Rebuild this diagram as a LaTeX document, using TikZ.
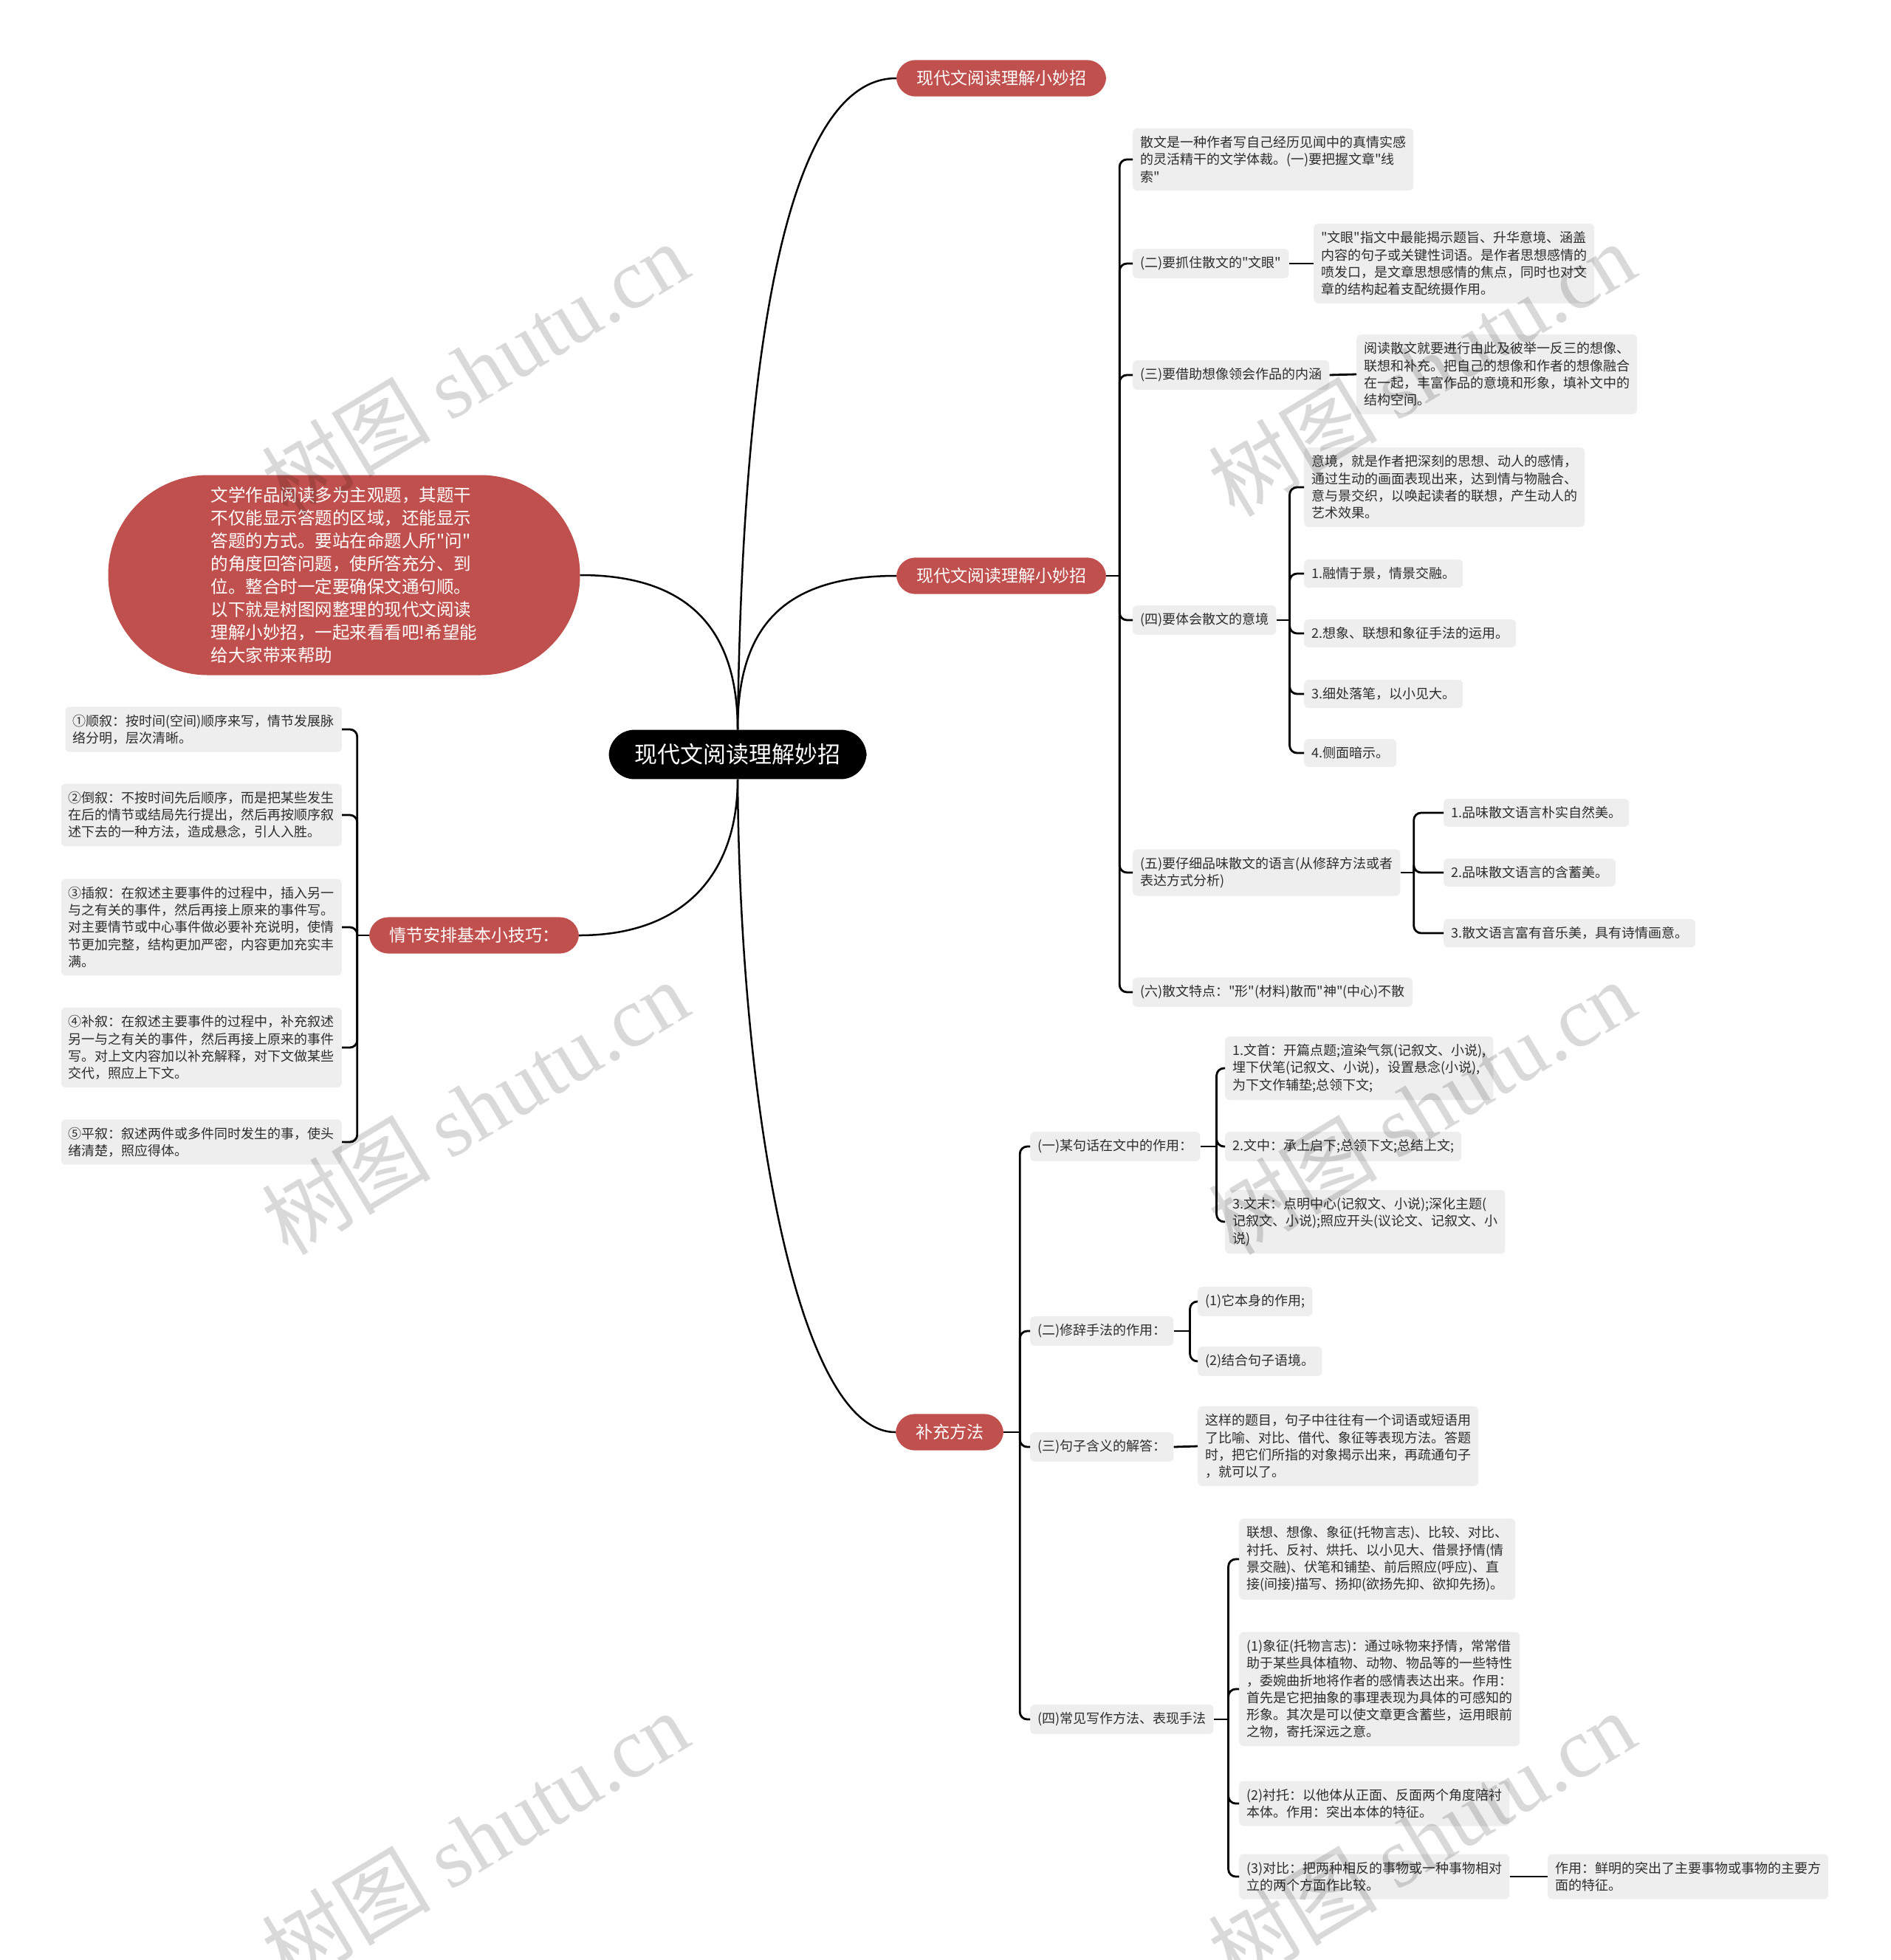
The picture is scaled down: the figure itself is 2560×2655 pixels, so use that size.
\documentclass[tikz,border=0pt]{standalone}
\usepackage{fontspec}
\setmainfont{Noto Sans CJK SC}[Ligatures=TeXOff]
\newfontfamily\markserif{Liberation Serif}
\usetikzlibrary{positioning}
\definecolor{branchred}{RGB}{192,80,77}
\definecolor{leafgray}{RGB}{238,238,238}
\definecolor{leaftext}{RGB}{45,45,45}

\tikzset{
  rootbox/.style={fill=black, text=white, rounded corners=35pt,
    inner xsep=35pt, inner ysep=19pt, font=\fontsize{31}{36}\selectfont},
  branchbox/.style={fill=branchred, text=white, rounded corners=26pt,
    inner xsep=27pt, inner ysep=14pt, font=\fontsize{23}{28}\selectfont},
  introbox/.style={fill=branchred, text=white, rounded corners=135pt,
    minimum width=639pt, minimum height=271pt, align=left,
    font=\fontsize{23.5}{31}\selectfont},
  leafbox/.style={fill=leafgray, text=leaftext, rounded corners=6pt,
    inner xsep=10pt, inner ysep=10.5pt, align=left,
    font=\fontsize{18}{23.3}\selectfont},
  rootlink/.style={line width=2.5pt},
  link/.style={line width=2.8pt, rounded corners=10pt},
  watermark/.style={text=black, opacity=0.15, rotate=31,
    font=\fontsize{115}{115}\selectfont}
}

\begin{document}
\begin{tikzpicture}[x=1pt, y=-1pt]
  \useasboundingbox (0,0) rectangle (2560,2655);

  % centre and first level
  \node[rootbox] (root) at (999,1022) {现代文阅读理解妙招};
  \node[branchbox] (b1) at (1356,106) {现代文阅读理解小妙招};
  \node[branchbox] (b2) at (1356,780) {现代文阅读理解小妙招};
  \node[branchbox] (b3) at (1286,1940) {补充方法};
  \node[branchbox] (b4) at (642,1267) {情节安排基本小技巧：};
  \node[introbox] (intro) at (466,779)
    {文学作品阅读多为主观题，其题干\\不仅能显示答题的区域，还能显示\\答题的方式。要站在命题人所"问"\\的角度回答问题，使所答充分、到\\位。整合时一定要确保文通句顺。\\以下就是树图网整理的现代文阅读\\理解小妙招，一起来看看吧!希望能\\给大家带来帮助};

  % branch b2
  \node[leafbox, anchor=west] (c1) at (1534,216)
    {散文是一种作者写自己经历见闻中的真情实感\\的灵活精干的文学体裁。(一)要把握文章"线\\索"};
  \node[leafbox, anchor=west] (c2) at (1534,357) {(二)要抓住散文的"文眼"};
  \node[leafbox, anchor=west] (c2a) at (1779,357)
    {"文眼"指文中最能揭示题旨、升华意境、涵盖\\内容的句子或关键性词语。是作者思想感情的\\喷发口，是文章思想感情的焦点，同时也对文\\章的结构起着支配统摄作用。};
  \node[leafbox, anchor=west] (c3) at (1534,508) {(三)要借助想像领会作品的内涵};
  \node[leafbox, anchor=west] (c3a) at (1837,507)
    {阅读散文就要进行由此及彼举一反三的想像、\\联想和补充。把自己的想像和作者的想像融合\\在一起，丰富作品的意境和形象，填补文中的\\结构空间。};
  \node[leafbox, anchor=west] (c4) at (1534,840) {(四)要体会散文的意境};
  \node[leafbox, anchor=west] (c4a) at (1766,660)
    {意境，就是作者把深刻的思想、动人的感情，\\通过生动的画面表现出来，达到情与物融合、\\意与景交织，以唤起读者的联想，产生动人的\\艺术效果。};
  \node[leafbox, anchor=west] (c4b) at (1766,777) {1.融情于景，情景交融。};
  \node[leafbox, anchor=west] (c4c) at (1766,858) {2.想象、联想和象征手法的运用。};
  \node[leafbox, anchor=west] (c4d) at (1766,940) {3.细处落笔，以小见大。};
  \node[leafbox, anchor=west] (c4e) at (1766,1020) {4.侧面暗示。};
  \node[leafbox, anchor=west] (c5) at (1534,1182)
    {(五)要仔细品味散文的语言(从修辞方法或者\\表达方式分析)};
  \node[leafbox, anchor=west] (c5a) at (1955,1101) {1.品味散文语言朴实自然美。};
  \node[leafbox, anchor=west] (c5b) at (1955,1182) {2.品味散文语言的含蓄美。};
  \node[leafbox, anchor=west] (c5c) at (1955,1264) {3.散文语言富有音乐美，具有诗情画意。};
  \node[leafbox, anchor=west] (c6) at (1534,1344) {(六)散文特点："形"(材料)散而"神"(中心)不散};

  % branch b3
  \node[leafbox, anchor=west] (d1) at (1395,1553) {(一)某句话在文中的作用：};
  \node[leafbox, anchor=west] (d1a) at (1659,1447)
    {1.文首：开篇点题;渲染气氛(记叙文、小说),\\埋下伏笔(记叙文、小说)，设置悬念(小说),\\为下文作辅垫;总领下文;};
  \node[leafbox, anchor=west] (d1b) at (1659,1553) {2.文中：承上启下;总领下文;总结上文;};
  \node[leafbox, anchor=west] (d1c) at (1659,1655)
    {3.文末：点明中心(记叙文、小说);深化主题(\\记叙文、小说);照应开头(议论文、记叙文、小\\说)};
  \node[leafbox, anchor=west] (d2) at (1395,1803) {(二)修辞手法的作用：};
  \node[leafbox, anchor=west] (d2a) at (1622,1763) {(1)它本身的作用;};
  \node[leafbox, anchor=west] (d2b) at (1622,1844) {(2)结合句子语境。};
  \node[leafbox, anchor=west] (d3) at (1395,1960) {(三)句子含义的解答：};
  \node[leafbox, anchor=west] (d3a) at (1622,1959)
    {这样的题目，句子中往往有一个词语或短语用\\了比喻、对比、借代、象征等表现方法。答题\\时，把它们所指的对象揭示出来，再疏通句子\\，就可以了。};
  \node[leafbox, anchor=west] (d4) at (1395,2329) {(四)常见写作方法、表现手法};
  \node[leafbox, anchor=west] (d4a) at (1678,2112)
    {联想、想像、象征(托物言志)、比较、对比、\\衬托、反衬、烘托、以小见大、借景抒情(情\\景交融)、伏笔和铺垫、前后照应(呼应)、直\\接(间接)描写、扬抑(欲扬先抑、欲抑先扬)。};
  \node[leafbox, anchor=west] (d4b) at (1678,2288)
    {(1)象征(托物言志)：通过咏物来抒情，常常借\\助于某些具体植物、动物、物品等的一些特性\\，委婉曲折地将作者的感情表达出来。作用：\\首先是它把抽象的事理表现为具体的可感知的\\形象。其次是可以使文章更含蓄些，运用眼前\\之物，寄托深远之意。};
  \node[leafbox, anchor=west] (d4c) at (1678,2443)
    {(2)衬托：以他体从正面、反面两个角度陪衬\\本体。作用：突出本体的特征。};
  \node[leafbox, anchor=west] (d4d) at (1678,2542)
    {(3)对比：把两种相反的事物或一种事物相对\\立的两个方面作比较。};
  \node[leafbox, anchor=west] (d4e) at (2096,2542)
    {作用：鲜明的突出了主要事物或事物的主要方\\面的特征。};

  % branch b4
  \node[leafbox, anchor=east] (e1) at (463,988)
    {①顺叙：按时间(空间)顺序来写，情节发展脉\\络分明，层次清晰。};
  \node[leafbox, anchor=east] (e2) at (463,1104)
    {②倒叙：不按时间先后顺序，而是把某些发生\\在后的情节或结局先行提出，然后再按顺序叙\\述下去的一种方法，造成悬念，引人入胜。};
  \node[leafbox, anchor=east] (e3) at (463,1256)
    {③插叙：在叙述主要事件的过程中，插入另一\\与之有关的事件，然后再接上原来的事件写。\\对主要情节或中心事件做必要补充说明，使情\\节更加完整，结构更加严密，内容更加充实丰\\满。};
  \node[leafbox, anchor=east] (e4) at (463,1419)
    {④补叙：在叙述主要事件的过程中，补充叙述\\另一与之有关的事件，然后再接上原来的事件\\写。对上文内容加以补充解释，对下文做某些\\交代，照应上下文。};
  \node[leafbox, anchor=east] (e5) at (463,1547)
    {⑤平叙：叙述两件或多件同时发生的事，使头\\绪清楚，照应得体。};

  % curves from the centre
  \draw[rootlink] (root.north) .. controls (1005,500) and (1060,106) .. (b1.west);
  \draw[rootlink] (root.north) .. controls (999,850) and (1060,780) .. (b2.west);
  \draw[rootlink] (root.north) .. controls (999,850) and (930,779) .. (intro.east);
  \draw[rootlink] (root.south) .. controls (999,1180) and (930,1267) .. (b4.east);
  \draw[rootlink] (root.south) .. controls (1002,1500) and (1080,1940) .. (b3.west);

  % brackets
  \coordinate (b2j) at ([xshift=18pt]b2.east);
  \draw[link] (b2.east) -- (b2j);
  \foreach \k in {c1,c2,c3,c4,c5,c6}
    \draw[link] (b2j) |- (\k.west);
  \draw[link] (c2.east) -- (c2a.west);
  \draw[link] (c3.east) -- (c3a.west);
  \coordinate (c4j) at ([xshift=18pt]c4.east);
  \draw[link] (c4.east) -- (c4j);
  \foreach \k in {c4a,c4b,c4c,c4d,c4e}
    \draw[link] (c4j) |- (\k.west);
  \coordinate (c5j) at ([xshift=18pt]c5.east);
  \draw[link] (c5.east) -- (c5j);
  \foreach \k in {c5a,c5b,c5c}
    \draw[link] (c5j) |- (\k.west);

  \coordinate (b3j) at ([xshift=22pt]b3.east);
  \draw[link] (b3.east) -- (b3j);
  \foreach \k in {d1,d2,d3,d4}
    \draw[link] (b3j) |- (\k.west);
  \coordinate (d1j) at ([xshift=22pt]d1.east);
  \draw[link] (d1.east) -- (d1j);
  \foreach \k in {d1a,d1b,d1c}
    \draw[link] (d1j) |- (\k.west);
  \coordinate (d2j) at ([xshift=22pt]d2.east);
  \draw[link] (d2.east) -- (d2j);
  \foreach \k in {d2a,d2b}
    \draw[link] (d2j) |- (\k.west);
  \draw[link] (d3.east) -- (d3a.west);
  \coordinate (d4j) at ([xshift=20pt]d4.east);
  \draw[link] (d4.east) -- (d4j);
  \foreach \k in {d4a,d4b,d4c,d4d}
    \draw[link] (d4j) |- (\k.west);
  \draw[link] (d4d.east) -- (d4e.west);

  \coordinate (b4j) at ([xshift=-16pt]b4.west);
  \draw[link] (b4.west) -- (b4j);
  \foreach \k in {e1,e2,e3,e4,e5}
    \draw[link] (b4j) |- (\k.east);

  % watermarks
  \foreach \wy in {500,1500,2490} {
    \node[watermark] at (643,\wy) {树图 {\markserif shutu.cn}};
    \node[watermark] at (1925,\wy) {树图 {\markserif shutu.cn}};
  }
\end{tikzpicture}
\end{document}
